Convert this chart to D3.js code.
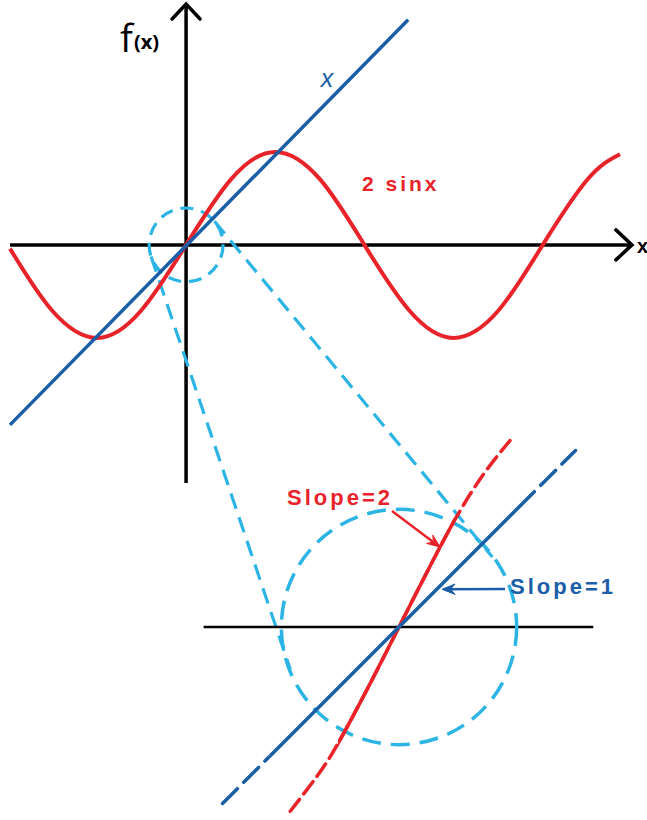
<!DOCTYPE html>
<html><head><meta charset="utf-8">
<script src="https://cdn.jsdelivr.net/npm/d3@7"></script>
<style>html,body{margin:0;padding:0;background:#fff;}svg{display:block;}</style>
</head><body>
<script>
// ---- data ----
// main plot: 2 sin x, sampled along the drawn curve
const sineX = [-3.1, -2.36, -1.57, -0.79, 0, 0.79, 1.57, 2.36, 3.14, 3.93, 4.71, 5.50, 6.28, 7.07, 7.64];
const sineY = [-0.08, -1.41, -2.0, -1.41, 0, 1.41, 2.0, 1.41, 0, -1.41, -2.0, -1.41, 0, 1.41, 1.95];
// main plot: the line labelled x (end points)
const lineX = [-3.1, 3.91];
const lineY = [-3.87, 4.84];
// axis extents
const axisXExtent = [-3.1, 7.85];
const axisYExtent = [-5.12, 5.18];
// zoomed view
const zoomRedX = [-0.98, -0.75, -0.55, -0.25, 0, 0.25, 0.5, 0.75, 1.0];
const zoomRedY = [-1.66, -1.36, -1.05, -0.49, 0, 0.49, 0.96, 1.36, 1.68];
const zoomRedSolid = [-0.55, 0.5];
const zoomBlueX = [-1.59, 1.59];
const zoomBlueY = [-1.59, 1.59];
const zoomBlueSolid = [-1.17, 1.18];
const zoomAxisX = [-1.76, 1.75];
const smallCircleR = 0.65;   // in x units of main plot
const bigCircleR = 1.06;     // in zoom units
const labels = {fx: "f", fxArg: "(x)", xAxis: "x", line: "x", sine: "2 sinx", slope2: "Slope=2", slope1: "Slope=1"};

const RED = "#e8232a", BLUE = "#1b5ea8", CYAN = "#2cb4e4", BLACK = "#000";
const W = 647, H = 820;
const svg = d3.select("body").append("svg").attr("width", W).attr("height", H);

// scales
const x = d3.scaleLinear().domain([-3.1, 7.64]).range([10, 620]);
const y = d3.scaleLinear().domain(axisYExtent).range([483, 4]);
const zx = d3.scaleLinear().domain([-1, 1]).range([288, 510]);
const zy = d3.scaleLinear().domain([-1, 1]).range([738, 516]);

// ---- main axes ----
const gAx = svg.append("g").attr("stroke", BLACK).attr("stroke-width", 3.5).attr("fill", "none").attr("stroke-linecap", "round");
gAx.append("line").attr("x1", x(axisXExtent[0])).attr("x2", x(axisXExtent[1])).attr("y1", y(0)).attr("y2", y(0)).attr("stroke-linecap", "butt");
gAx.append("line").attr("x1", x(0)).attr("x2", x(0)).attr("y1", y(axisYExtent[0])).attr("y2", y(axisYExtent[1])).attr("stroke-linecap", "butt");
const tipR = [x(axisXExtent[1]), y(0)], tipT = [x(0), y(axisYExtent[1])];
gAx.append("path").attr("d", `M${tipR[0]-16},${tipR[1]-15}L${tipR[0]},${tipR[1]}L${tipR[0]-16},${tipR[1]+15}`).attr("stroke-linejoin", "miter");
gAx.append("path").attr("d", `M${tipT[0]-14},${tipT[1]+15}L${tipT[0]},${tipT[1]}L${tipT[0]+14},${tipT[1]+15}`).attr("stroke-linejoin", "miter");

// ---- connectors (small circle -> big circle), external tangents ----
const c1 = {x: x(0), y: y(0), r: x(smallCircleR) - x(0)};
const c2 = {x: zx(0), y: zy(0), r: zx(bigCircleR) - zx(0)};
(function () {
  const dx = c2.x - c1.x, dy = c2.y - c1.y, d = Math.hypot(dx, dy);
  const ux = dx / d, uy = dy / d, c = (c1.r - c2.r) / d, s = Math.sqrt(1 - c * c);
  [1, -1].forEach(sg => {
    const nx = c * ux - sg * s * uy, ny = c * uy + sg * s * ux;
    svg.append("line")
      .attr("x1", c1.x + c1.r * nx).attr("y1", c1.y + c1.r * ny)
      .attr("x2", c2.x + c2.r * nx + 6 * ux).attr("y2", c2.y + c2.r * ny + 6 * uy)
      .attr("stroke", CYAN).attr("stroke-width", 3.2).attr("stroke-dasharray", "16,9");
  });
})();
svg.append("circle").attr("cx", c1.x).attr("cy", c1.y).attr("r", c1.r)
  .attr("fill", "none").attr("stroke", CYAN).attr("stroke-width", 3.2).attr("stroke-dasharray", "13,8");

// ---- main curves ----
const sinePts = sineX.map((v, i) => [v, sineY[i]]);
svg.append("path").datum(sinePts)
  .attr("d", d3.line().x(d => x(d[0])).y(d => y(d[1])).curve(d3.curveNatural))
  .attr("fill", "none").attr("stroke", RED).attr("stroke-width", 4);
svg.append("path").datum(lineX.map((v, i) => [v, lineY[i]]))
  .attr("d", d3.line().x(d => x(d[0])).y(d => y(d[1])))
  .attr("fill", "none").attr("stroke", BLUE).attr("stroke-width", 3.5);

// ---- zoomed view ----
svg.append("line").attr("x1", zx(zoomAxisX[0])).attr("x2", zx(zoomAxisX[1])).attr("y1", zy(0)).attr("y2", zy(0))
  .attr("stroke", BLACK).attr("stroke-width", 2.5);
svg.append("circle").attr("cx", c2.x).attr("cy", c2.y).attr("r", c2.r)
  .attr("fill", "none").attr("stroke", CYAN).attr("stroke-width", 3.5).attr("stroke-dasharray", "19,10");

const zl = d3.line().x(d => zx(d[0])).y(d => zy(d[1]));
const redPts = zoomRedX.map((v, i) => [v, zoomRedY[i]]);
svg.append("path").datum(redPts).attr("d", zl.curve(d3.curveNatural))
  .attr("fill", "none").attr("stroke", RED).attr("stroke-width", 3.5).attr("stroke-dasharray", "15,7").attr("stroke-linecap", "round");
// solid central part of red: clip to solid x-range
const clipR = svg.append("clipPath").attr("id", "clipRed").append("rect")
  .attr("x", zx(zoomRedSolid[0])).attr("width", zx(zoomRedSolid[1]) - zx(zoomRedSolid[0])).attr("y", 0).attr("height", H);
svg.append("path").datum(redPts).attr("d", zl.curve(d3.curveNatural)).attr("clip-path", "url(#clipRed)")
  .attr("fill", "none").attr("stroke", RED).attr("stroke-width", 3.5);

const bluePts = zoomBlueX.map((v, i) => [v, zoomBlueY[i]]);
const zlLin = d3.line().x(d => zx(d[0])).y(d => zy(d[1]));
svg.append("clipPath").attr("id", "clipBlueOut").append("path")
  .attr("d", `M0,0H${W}V${H}H0Z M${zx(zoomBlueSolid[0])},0V${H}H${zx(zoomBlueSolid[1])}V0Z`).attr("clip-rule", "evenodd");
svg.append("path").datum(bluePts).attr("d", zlLin).attr("clip-path", "url(#clipBlueOut)")
  .attr("fill", "none").attr("stroke", BLUE).attr("stroke-width", 3.5).attr("stroke-dasharray", "21,9").attr("stroke-linecap", "round")
  .attr("stroke-dashoffset", 0);
svg.append("clipPath").attr("id", "clipBlue").append("rect")
  .attr("x", zx(zoomBlueSolid[0])).attr("width", zx(zoomBlueSolid[1]) - zx(zoomBlueSolid[0])).attr("y", 0).attr("height", H);
svg.append("path").datum(bluePts).attr("d", zlLin).attr("clip-path", "url(#clipBlue)")
  .attr("fill", "none").attr("stroke", BLUE).attr("stroke-width", 3.5);

// ---- arrows ----
function arrow(x1, y1, x2, y2, col) {
  const a = Math.atan2(y2 - y1, x2 - x1), L = 14, sp = 0.38;
  svg.append("line").attr("x1", x1).attr("y1", y1).attr("x2", x2 - 2 * Math.cos(a)).attr("y2", y2 - 2 * Math.sin(a))
    .attr("stroke", col).attr("stroke-width", 2.5);
  const p = [[x2 - L * Math.cos(a - sp), y2 - L * Math.sin(a - sp)], [x2, y2], [x2 - L * Math.cos(a + sp), y2 - L * Math.sin(a + sp)],
             [x2 - 0.6 * L * Math.cos(a), y2 - 0.6 * L * Math.sin(a)]];
  svg.append("path").attr("d", `M${p[0]}L${p[1]}L${p[2]}L${p[3]}Z`).attr("fill", col).attr("stroke", col).attr("stroke-width", 1);
}
arrow(392, 511, zx(0.37), zy(0.72), RED);
arrow(505, 589, zx(0.37) + 2, zy(0.34), BLUE);

// ---- text ----
const font = "'Liberation Sans', Arial, sans-serif";
svg.append("text").attr("x", 120).attr("y", 52).attr("font-family", "'Open Sans', sans-serif").attr("font-size", 38).attr("fill", BLACK).text(labels.fx);
svg.append("text").attr("x", 134).attr("y", 49).attr("font-family", "'Open Sans', sans-serif").attr("font-weight", "bold").attr("font-size", 20).attr("fill", BLACK).text(labels.fxArg);
svg.append("text").attr("x", 637).attr("y", 253).attr("font-family", font).attr("font-weight", "bold").attr("font-size", 20).attr("fill", BLACK).text(labels.xAxis);
svg.append("text").attr("x", 327).attr("y", 87).attr("text-anchor", "middle").attr("font-family", font).attr("font-style", "italic").attr("font-size", 25).attr("fill", BLUE).text(labels.line);
svg.append("text").attr("x", 362).attr("y", 191).attr("font-family", font).attr("font-weight", "bold").attr("font-size", 21).attr("letter-spacing", 3).attr("fill", RED).text(labels.sine);
svg.append("text").attr("x", 287).attr("y", 505).attr("font-family", font).attr("font-weight", "bold").attr("font-size", 22).attr("letter-spacing", 3).attr("fill", RED).text(labels.slope2);
svg.append("text").attr("x", 510).attr("y", 594).attr("font-family", font).attr("font-weight", "bold").attr("font-size", 22).attr("letter-spacing", 3).attr("fill", BLUE).text(labels.slope1);
</script>
</body></html>
